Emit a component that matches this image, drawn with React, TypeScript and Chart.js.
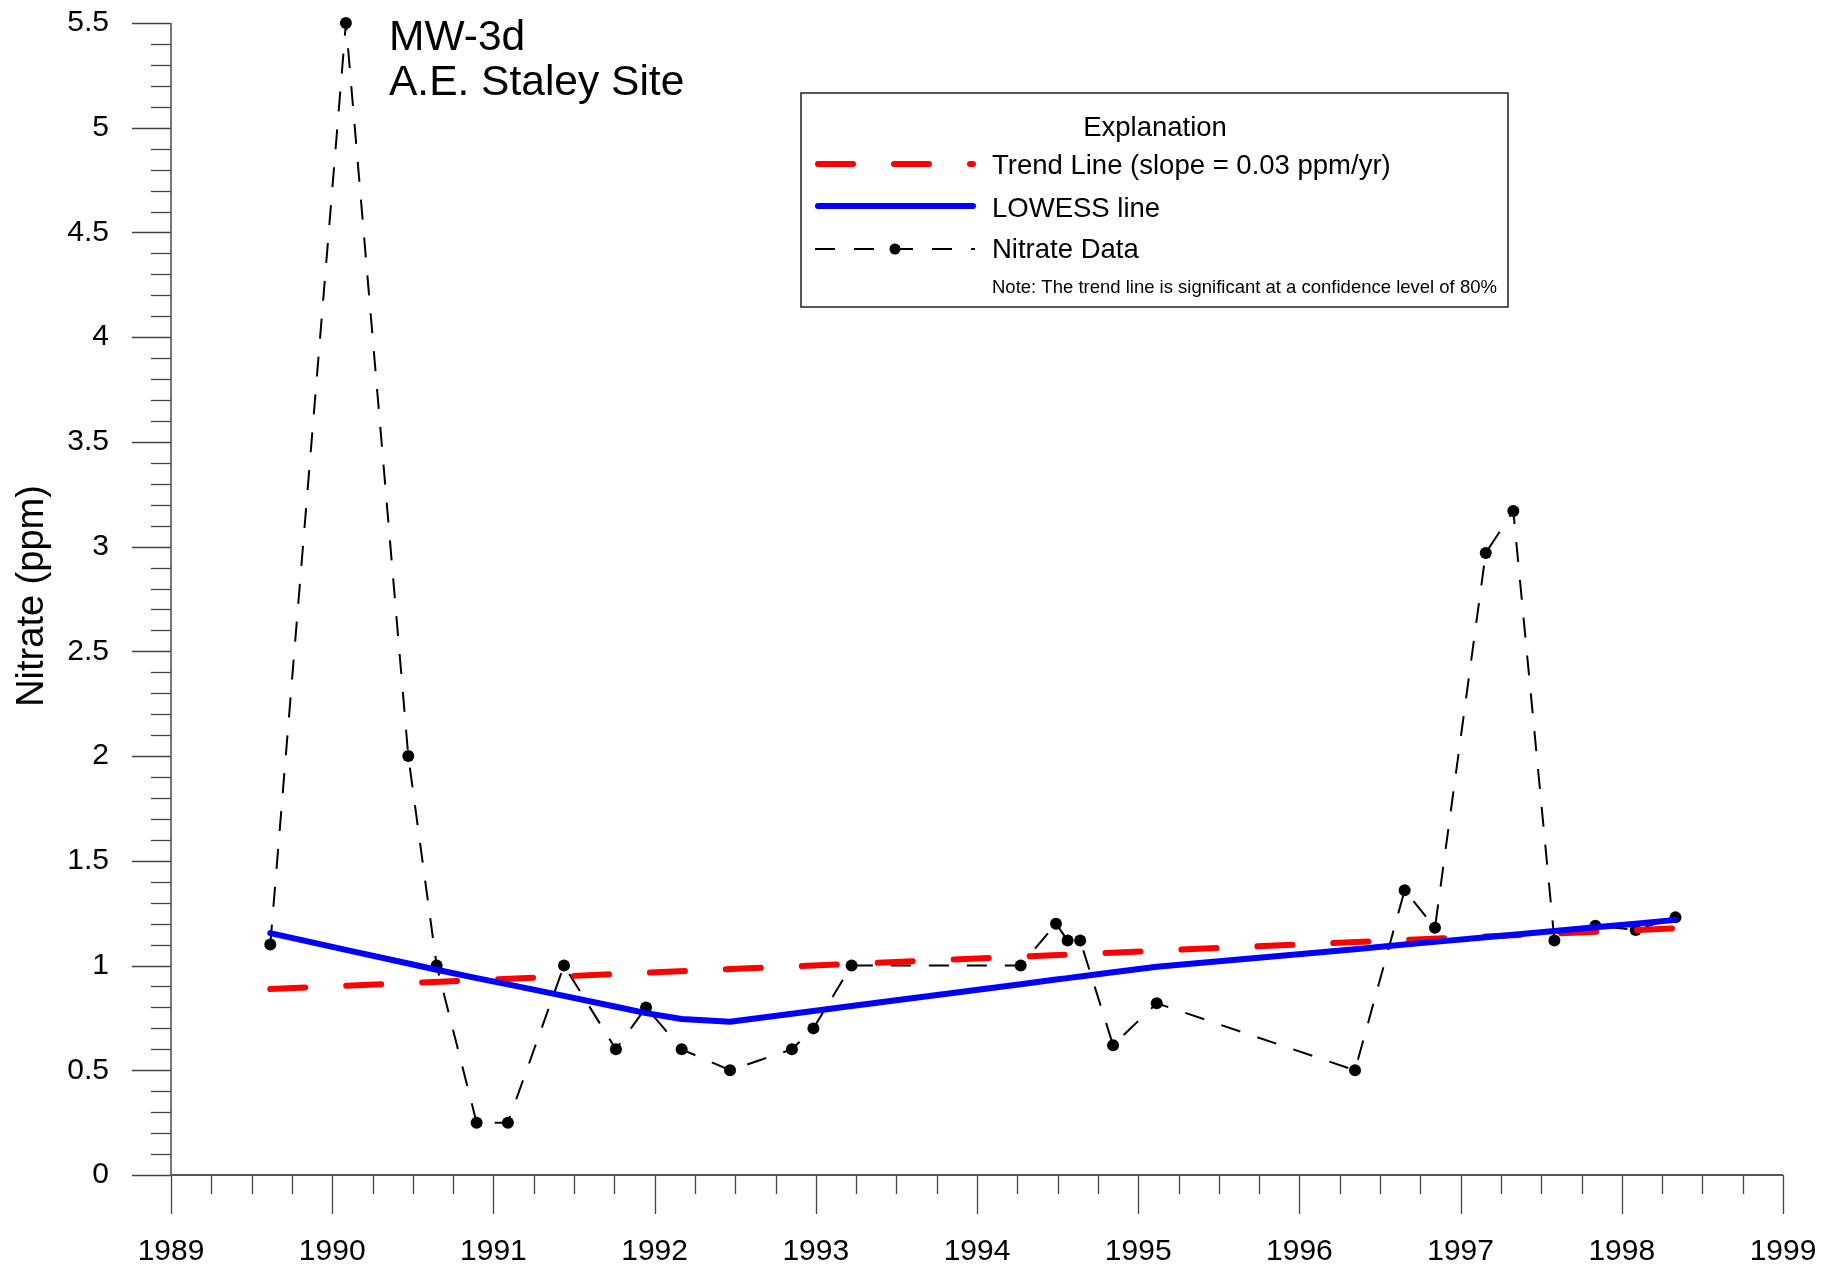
import React, { useEffect, useRef } from 'react';
import { Chart, registerables } from 'chart.js';

Chart.register(...registerables);

// ---- data ----
const sampleYears = [
  1989.616, 1990.085, 1990.472, 1990.648, 1990.896, 1991.09, 1991.438, 1991.76, 1991.947,
  1992.168, 1992.468, 1992.852, 1992.985, 1993.222, 1994.271, 1994.49, 1994.562, 1994.64,
  1994.844, 1995.115, 1996.345, 1996.653, 1996.841, 1997.156, 1997.327, 1997.582, 1997.836,
  1998.086, 1998.333,
];
const nitrateValues = [
  1.1, 5.5, 2.0, 1.0, 0.25, 0.25, 1.0, 0.6, 0.8,
  0.6, 0.5, 0.6, 0.7, 1.0, 1.0, 1.2, 1.12, 1.12,
  0.62, 0.82, 0.5, 1.36, 1.18, 2.97, 3.17, 1.12, 1.19,
  1.17, 1.23,
];
const lowessValues = [
  1.155, 1.075, 1.01, 0.98, 0.94, 0.91, 0.855, 0.803, 0.773,
  0.745, 0.732, 0.77, 0.783, 0.807, 0.911, 0.933, 0.94, 0.948,
  0.968, 0.994, 1.078, 1.1, 1.113, 1.135, 1.147, 1.165, 1.183,
  1.2, 1.218,
];
const trendYears = [1989.616, 1998.333];
const trendValues = [0.888, 1.178];

const xTickLabels = ['1989', '1990', '1991', '1992', '1993', '1994', '1995', '1996', '1997', '1998', '1999'];
const yTickLabels = ['0', '0.5', '1', '1.5', '2', '2.5', '3', '3.5', '4', '4.5', '5', '5.5'];

const titleLines = ['MW-3d', 'A.E. Staley Site'];
const yAxisTitle = 'Nitrate (ppm)';
const legendTitle = 'Explanation';
const legendLabels = ['Trend Line (slope = 0.03 ppm/yr)', 'LOWESS line', 'Nitrate Data'];
const legendNote = 'Note: The trend line is significant at a confidence level of 80%';

const FONT = '"Liberation Sans", Arial, Helvetica, sans-serif';
const X_MIN = 1989;
const X_MAX = 1999;
const Y_MIN = 0;
const Y_MAX = 5.5;
const X_MINOR_STEP = 0.25;
const Y_MINOR_STEP = 0.1;

const axesPlugin = {
  id: 'customAxes',
  beforeDatasetsDraw(chart: any) {
    const { ctx } = chart;
    const xs = chart.scales.x;
    const ys = chart.scales.y;
    const x0 = xs.getPixelForValue(X_MIN);
    const x1 = xs.getPixelForValue(X_MAX);
    const y0 = ys.getPixelForValue(Y_MIN);
    const y1 = ys.getPixelForValue(Y_MAX);
    ctx.save();
    ctx.strokeStyle = '#444';
    ctx.lineWidth = 1.3;
    const nY = Math.round((Y_MAX - Y_MIN) / Y_MINOR_STEP);
    for (let i = 0; i <= nY; i++) {
      const v = Y_MIN + i * Y_MINOR_STEP;
      const py = Math.round(ys.getPixelForValue(v)) + 0.5;
      const len = i % 5 === 0 ? 39 : 20;
      ctx.beginPath();
      ctx.moveTo(x0 - len, py);
      ctx.lineTo(x0, py);
      ctx.stroke();
    }
    const nX = Math.round((X_MAX - X_MIN) / X_MINOR_STEP);
    for (let i = 0; i <= nX; i++) {
      const v = X_MIN + i * X_MINOR_STEP;
      const px = Math.round(xs.getPixelForValue(v)) + 0.5;
      const len = i % 4 === 0 ? 39 : 19;
      ctx.beginPath();
      ctx.moveTo(px, y0);
      ctx.lineTo(px, y0 + len);
      ctx.stroke();
    }
    ctx.strokeStyle = '#555';
    ctx.lineWidth = 2;
    ctx.beginPath();
    ctx.moveTo(x0, y0);
    ctx.lineTo(x1, y0);
    ctx.stroke();
    ctx.lineWidth = 1.6;
    ctx.beginPath();
    ctx.moveTo(x0, y0);
    ctx.lineTo(x0, y1);
    ctx.stroke();
    ctx.restore();
  },
  afterDraw(chart: any) {
    const { ctx } = chart;
    ctx.save();
    ctx.fillStyle = '#000';
    ctx.font = `42.5px ${FONT}`;
    ctx.textAlign = 'left';
    ctx.textBaseline = 'alphabetic';
    ctx.fillText(titleLines[0], 389, 50);
    ctx.fillText(titleLines[1], 389, 95);

    ctx.save();
    ctx.translate(43, 596);
    ctx.rotate(-Math.PI / 2);
    ctx.font = `38px ${FONT}`;
    ctx.textAlign = 'center';
    ctx.textBaseline = 'alphabetic';
    ctx.fillText(yAxisTitle, 0, 0);
    ctx.restore();

    ctx.strokeStyle = '#222';
    ctx.lineWidth = 1.5;
    ctx.strokeRect(801, 93, 707, 214);
    ctx.font = `27.5px ${FONT}`;
    ctx.textAlign = 'center';
    ctx.fillText(legendTitle, 1155, 136);

    ctx.lineCap = 'round';
    ctx.strokeStyle = '#ff0000';
    ctx.lineWidth = 6;
    ctx.setLineDash([35, 41]);
    ctx.beginPath();
    ctx.moveTo(818, 164);
    ctx.lineTo(973, 164);
    ctx.stroke();
    ctx.setLineDash([]);
    ctx.strokeStyle = '#0000ff';
    ctx.beginPath();
    ctx.moveTo(818, 206);
    ctx.lineTo(973, 206);
    ctx.stroke();
    ctx.lineCap = 'butt';
    ctx.strokeStyle = '#000';
    ctx.lineWidth = 2;
    ctx.setLineDash([20, 19]);
    ctx.beginPath();
    ctx.moveTo(815, 249);
    ctx.lineTo(975, 249);
    ctx.stroke();
    ctx.setLineDash([]);
    ctx.beginPath();
    ctx.arc(895, 249, 5.5, 0, Math.PI * 2);
    ctx.fill();

    ctx.textAlign = 'left';
    ctx.font = `27.5px ${FONT}`;
    ctx.fillText(legendLabels[0], 992, 174);
    ctx.fillText(legendLabels[1], 992, 217);
    ctx.fillText(legendLabels[2], 992, 258);
    ctx.font = `18.5px ${FONT}`;
    ctx.fillText(legendNote, 992, 293);
    ctx.restore();
  },
};

export default function App() {
  const canvasRef = useRef<HTMLCanvasElement | null>(null);

  useEffect(() => {
    document.body.style.margin = '0';
    const canvas = canvasRef.current;
    if (!canvas) return;
    const chart = new Chart(canvas, {
      type: 'line',
      data: {
        datasets: [
          {
            label: 'LOWESS line',
            data: sampleYears.map((x, i) => ({ x, y: lowessValues[i] })),
            borderColor: '#0000ff',
            borderWidth: 6,
            borderJoinStyle: 'round',
            borderCapStyle: 'round',
            pointRadius: 0,
            tension: 0,
            fill: false,
            order: 1,
            clip: false,
          },
          {
            label: 'Trend Line',
            data: trendYears.map((x, i) => ({ x, y: trendValues[i] })),
            borderColor: '#ff0000',
            borderWidth: 6,
            borderDash: [35, 41],
            borderCapStyle: 'round',
            pointRadius: 0,
            tension: 0,
            fill: false,
            order: 2,
            clip: false,
          },
          {
            label: 'Nitrate Data',
            data: sampleYears.map((x, i) => ({ x, y: nitrateValues[i] })),
            borderColor: '#000',
            borderWidth: 2,
            borderDash: [20, 18],
            pointRadius: 6,
            pointBackgroundColor: '#000',
            pointBorderWidth: 0,
            tension: 0,
            fill: false,
            order: 3,
            clip: false,
          },
        ],
      },
      options: {
        animation: false,
        responsive: false,
        events: [],
        layout: { padding: { top: 23, right: 41, left: 0, bottom: 0 } },
        plugins: {
          legend: { display: false },
          tooltip: { enabled: false },
          title: { display: false },
        },
        scales: {
          x: {
            type: 'linear',
            min: X_MIN,
            max: X_MAX,
            border: { display: false },
            grid: { display: false, drawTicks: true, tickLength: 59 },
            afterFit: (s: any) => {
              s.height = 93;
            },
            ticks: {
              stepSize: 1,
              autoSkip: false,
              maxRotation: 0,
              padding: 0,
              color: '#000',
              font: { family: FONT, size: 30 },
              callback: (_v: any, i: number) => xTickLabels[i],
            },
          },
          y: {
            type: 'linear',
            min: Y_MIN,
            max: Y_MAX,
            border: { display: false },
            grid: { display: false, drawTicks: true, tickLength: 62 },
            afterFit: (s: any) => {
              s.width = 171;
            },
            ticks: {
              stepSize: 0.5,
              autoSkip: false,
              padding: 0,
              color: '#000',
              font: { family: FONT, size: 30 },
              callback: (_v: any, i: number) => yTickLabels[i],
            },
          },
        },
      },
      plugins: [axesPlugin],
    } as any);
    return () => chart.destroy();
  }, []);

  return (
    <div style={{ width: 1824, height: 1268, background: '#fff' }}>
      <canvas ref={canvasRef} width={1824} height={1268} style={{ display: 'block' }} />
    </div>
  );
}
